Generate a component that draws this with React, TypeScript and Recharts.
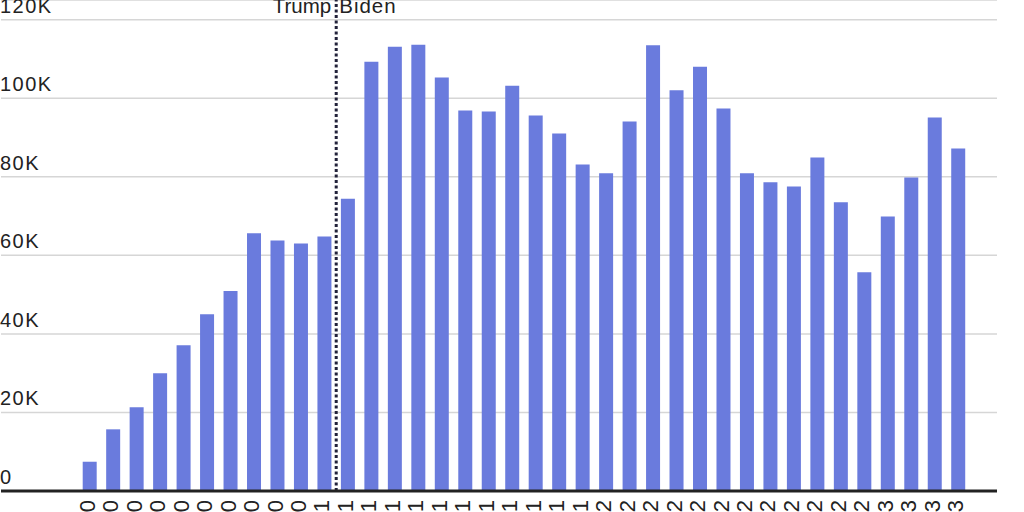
import { Bar, BarChart, CartesianGrid, ReferenceLine, XAxis, YAxis } from 'recharts';

const months = [
  'Mar 2020', 'Apr 2020', 'May 2020', 'Jun 2020', 'Jul 2020', 'Aug 2020', 'Sep 2020', 'Oct 2020', 'Nov 2020', 'Dec 2020',
  'Jan 2021', 'Feb 2021', 'Mar 2021', 'Apr 2021', 'May 2021', 'Jun 2021', 'Jul 2021', 'Aug 2021', 'Sep 2021', 'Oct 2021', 'Nov 2021', 'Dec 2021',
  'Jan 2022', 'Feb 2022', 'Mar 2022', 'Apr 2022', 'May 2022', 'Jun 2022', 'Jul 2022', 'Aug 2022', 'Sep 2022', 'Oct 2022', 'Nov 2022', 'Dec 2022',
  'Jan 2023', 'Feb 2023', 'Mar 2023', 'Apr 2023',
];

const counts = [
  7450, 15700, 21300, 30000, 37100, 45000, 50900, 65600, 63800, 63000,
  64800, 74400, 109300, 113100, 113600, 105300, 96900, 96600, 103200, 95600, 91000, 83100,
  80900, 94100, 113500, 102000, 108000, 97400, 80900, 78600, 77500, 84900, 73500, 55700,
  69900, 79800, 95100, 87200,
];

const yTicks = [0, 20000, 40000, 60000, 80000, 100000, 120000];
const yTickLabels = ['0', '20K', '40K', '60K', '80K', '100K', '120K'];

const data = months.map((month, i) => ({ month, count: counts[i] }));

const FONT = '"Liberation Sans", Arial, sans-serif';

function YTick({ y, payload }: any) {
  const idx = yTicks.indexOf(payload.value);
  return (
    <text
      x={0}
      y={y - 7}
      textAnchor="start"
      fontFamily={FONT}
      fontSize={20}
      letterSpacing={1.5}
      fill="#222"
    >
      {yTickLabels[idx]}
    </text>
  );
}

function XTick({ x, y, payload }: any) {
  return (
    <text
      transform={`translate(${x + 5},${y + 1}) rotate(-90)`}
      textAnchor="end"
      fontFamily={FONT}
      fontSize={22}
      fill="#222"
    >
      {payload.value}
    </text>
  );
}

function TransitionLabel({ viewBox }: any) {
  const x = viewBox.x;
  return (
    <g fontFamily={FONT} fontSize={20.5} fill="#222">
      <text x={x - 5} y={13} textAnchor="end">Trump</text>
      <text x={x + 3} y={13} textAnchor="start" letterSpacing={1}>Biden</text>
    </g>
  );
}

export default function App() {
  return (
    <div style={{ position: 'absolute', left: 0, top: 0, width: 1024, height: 512 }}>
      <BarChart
        width={1024}
        height={512}
        data={data}
        margin={{ top: 0, right: 27, left: 0, bottom: 0 }}
        barCategoryGap="20%"
      >
        <CartesianGrid vertical={false} stroke="#d6d6d6" strokeWidth={1.5} />
        <YAxis
          width={1}
          domain={[0, 125000]}
          ticks={yTicks}
          interval={0}
          axisLine={false}
          tickLine={false}
          tick={<YTick />}
          allowDataOverflow
        />
        <XAxis
          dataKey="month"
          height={21}
          interval={0}
          padding={{ left: 77, right: 27 }}
          axisLine={{ stroke: '#222', strokeWidth: 3 }}
          tickLine={false}
          tick={<XTick />}
        />
        <Bar dataKey="count" fill="#6a7bdd" isAnimationActive={false} />
        <ReferenceLine
          x="Feb 2021"
          position="start"
          stroke="#22223a"
          strokeWidth={3}
          strokeDasharray="3 2.5"
          label={<TransitionLabel />}
        />
      </BarChart>
    </div>
  );
}
